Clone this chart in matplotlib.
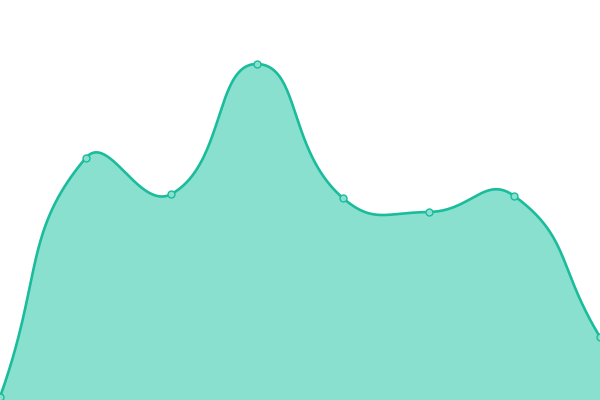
import numpy as np
import matplotlib
matplotlib.use("Agg")
import matplotlib.pyplot as plt

# values (y axis 0..400, no axes shown)
categories = ["A", "B", "C", "D", "E", "F", "G", "H"]
values = [3, 242, 206, 336, 202, 188, 204, 63]

LINE_COLOR = "#1abc9c"
FILL_COLOR = "#8ae0cf"

W, H = 600, 400


def smooth_path(px, py, smooth=0.5, steps=80):
    # bezier smoothing with control points weighted by segment lengths
    # (works in pixel space so the shape matches the reference)
    n = len(px)
    cp_in = []
    cp_out = []
    for i in range(n):
        x, y = px[i], py[i]
        x0, y0 = (px[i - 1], py[i - 1]) if i > 0 else (x, y)
        x1, y1 = (px[i + 1], py[i + 1]) if i < n - 1 else (x, y)
        vx, vy = x1 - x0, y1 - y0
        l0 = np.hypot(x - x0, y - y0)
        l1 = np.hypot(x1 - x, y1 - y)
        r = l1 / (l0 + l1) if (l0 + l1) > 0 else 0.5
        cp_in.append((x - vx * smooth * (1 - r), y - vy * smooth * (1 - r)))
        cp_out.append((x + vx * smooth * r, y + vy * smooth * r))
    t = np.linspace(0, 1, steps)
    xs, ys = [], []
    for i in range(n - 1):
        p0 = np.array([px[i], py[i]])
        p3 = np.array([px[i + 1], py[i + 1]])
        c1 = np.array(cp_out[i])
        c2 = np.array(cp_in[i + 1])
        tt = t[:, None]
        seg = ((1 - tt) ** 3) * p0 + 3 * ((1 - tt) ** 2) * tt * c1 \
            + 3 * (1 - tt) * tt ** 2 * c2 + tt ** 3 * p3
        if i > 0:
            seg = seg[1:]
        xs.append(seg[:, 0])
        ys.append(seg[:, 1])
    return np.concatenate(xs), np.concatenate(ys)


fig = plt.figure(figsize=(6, 4), dpi=100)
ax = fig.add_axes([0, 0, 1, 1])

x = np.arange(len(categories))
xmax = len(categories) - 1
ymax = 400.0

# to pixel space, smooth, then back to data units
px = x / xmax * W
py = np.array(values) / ymax * H
spx, spy = smooth_path(px, py)
sx = spx / W * xmax
sy = spy / H * ymax

ax.fill_between(sx, sy, 0, color=FILL_COLOR, linewidth=0)
ax.plot(sx, sy, color=LINE_COLOR, linewidth=1.9, solid_capstyle="round")
ax.plot(x, values, linestyle="none", marker="o", markersize=5,
        markerfacecolor=FILL_COLOR, markeredgecolor=LINE_COLOR,
        markeredgewidth=1.0)

ax.set_xlim(0, xmax)
ax.set_ylim(0, ymax)
ax.axis("off")

fig.savefig("out.png", dpi=100)
